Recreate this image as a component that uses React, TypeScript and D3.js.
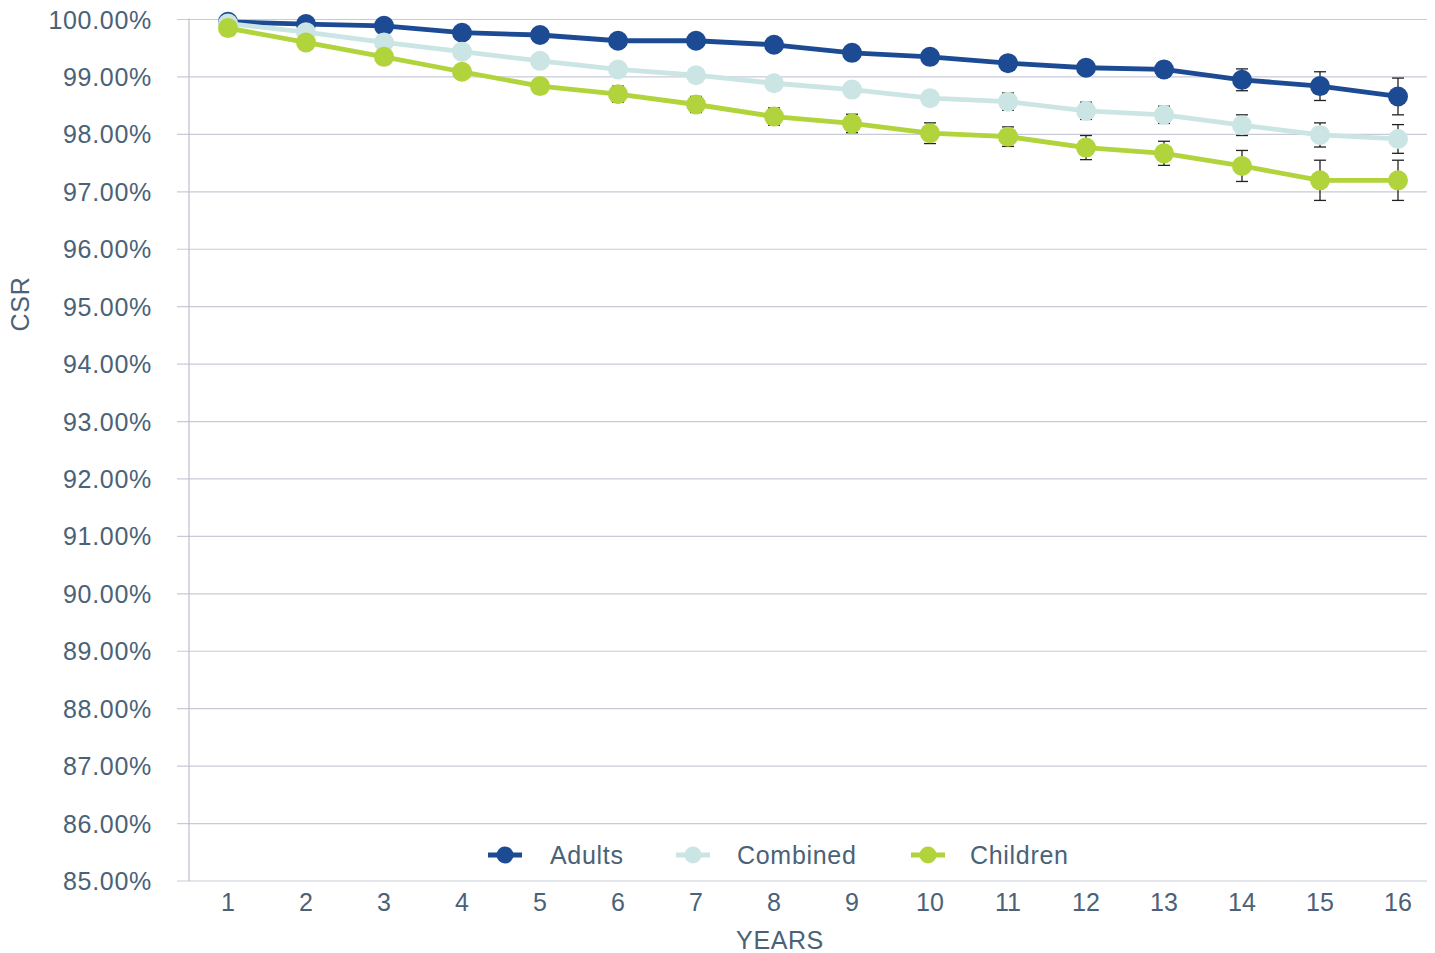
import React from "react";
import * as d3 from "d3";

const years = [1, 2, 3, 4, 5, 6, 7, 8, 9, 10, 11, 12, 13, 14, 15, 16];
const yTicks = [85, 86, 87, 88, 89, 90, 91, 92, 93, 94, 95, 96, 97, 98, 99, 100];

const adults = [99.96, 99.92, 99.89, 99.77, 99.73, 99.63, 99.63, 99.56, 99.42, 99.35, 99.24, 99.16, 99.13, 98.95, 98.84, 98.66];
const adultsErr = [0.01, 0.02, 0.03, 0.04, 0.05, 0.06, 0.07, 0.08, 0.09, 0.1, 0.11, 0.12, 0.13, 0.19, 0.25, 0.32];
const combined = [99.93, 99.78, 99.6, 99.44, 99.28, 99.13, 99.03, 98.89, 98.78, 98.63, 98.57, 98.41, 98.34, 98.16, 97.99, 97.92];
const combinedErr = [0.01, 0.02, 0.03, 0.04, 0.05, 0.06, 0.07, 0.08, 0.1, 0.12, 0.15, 0.15, 0.15, 0.18, 0.21, 0.25];
const children = [99.85, 99.6, 99.35, 99.09, 98.84, 98.7, 98.52, 98.31, 98.19, 98.02, 97.96, 97.77, 97.67, 97.45, 97.2, 97.2];
const childrenErr = [0.02, 0.04, 0.06, 0.08, 0.1, 0.14, 0.14, 0.15, 0.16, 0.18, 0.17, 0.21, 0.21, 0.27, 0.35, 0.35];

const seriesNames = ["Adults", "Combined", "Children"];
const seriesColors = ["#1c4b94", "#cbe5e4", "#b1d33b"];

const TEXT = "#4a6277";
const FONT = "'Liberation Sans', Arial, Helvetica, sans-serif";

export default function App() {
  const W = 1435;
  const H = 953;
  const x = d3.scaleBand<number>().domain(years).range([189, 189 + 78 * 16]).padding(0);
  const cx = (d: number) => (x(d) as number) + x.bandwidth() / 2;
  const y = d3.scaleLinear().domain([85, 100]).range([881, 19.5]);

  const series = [
    { name: seriesNames[0], color: seriesColors[0], vals: adults, err: adultsErr },
    { name: seriesNames[1], color: seriesColors[1], vals: combined, err: combinedErr },
    { name: seriesNames[2], color: seriesColors[2], vals: children, err: childrenErr },
  ];

  const line = d3
    .line<number>()
    .x((_, i) => cx(years[i]))
    .y((v) => y(v));

  const legendItems = [
    { lx: 505, tx: 550 },
    { lx: 693, tx: 737 },
    { lx: 928, tx: 970 },
  ];

  return (
    <svg
      width={W}
      height={H}
      style={{ position: "absolute", left: 0, top: 0, background: "#fff" }}
      fontFamily={FONT}
    >
      {yTicks.map((t) => (
        <line key={t} x1={177} x2={1427} y1={y(t)} y2={y(t)} stroke="#c9cad8" strokeWidth={1.2} />
      ))}
      <line x1={189} x2={189} y1={y(100) - 1} y2={y(85)} stroke="#bcbfcc" strokeWidth={1.2} />

      {yTicks.map((t) => (
        <text
          key={"l" + t}
          x={152}
          y={y(t)}
          dy="0.36em"
          textAnchor="end"
          fontSize={25}
          letterSpacing={0.7}
          fill={TEXT}
        >
          {t.toFixed(2) + "%"}
        </text>
      ))}

      {years.map((d) => (
        <text key={"x" + d} x={cx(d)} y={911} textAnchor="middle" fontSize={25} fill={TEXT}>
          {d}
        </text>
      ))}

      <text x={780} y={949} textAnchor="middle" fontSize={25} letterSpacing={0.6} fill={TEXT}>
        YEARS
      </text>
      <text
        transform="translate(20,304) rotate(-90)"
        textAnchor="middle"
        dy="0.36em"
        fontSize={25}
        letterSpacing={0.8}
        fill={TEXT}
      >
        CSR
      </text>

      {series.map((s) => (
        <g key={s.name}>
          {s.vals.map((v, i) => {
            const px = cx(years[i]);
            const y1 = y(v + s.err[i]);
            const y2 = y(v - s.err[i]);
            return (
              <g key={i} stroke="#222" strokeWidth={1.3}>
                <line x1={px} x2={px} y1={y1} y2={y2} />
                <line x1={px - 6} x2={px + 6} y1={y1} y2={y1} />
                <line x1={px - 6} x2={px + 6} y1={y2} y2={y2} />
              </g>
            );
          })}
          <path d={line(s.vals) || ""} fill="none" stroke={s.color} strokeWidth={4.8} strokeLinejoin="round" />
          {s.vals.map((v, i) => (
            <circle key={"c" + i} cx={cx(years[i])} cy={y(v)} r={10} fill={s.color} />
          ))}
        </g>
      ))}

      {series.map((s, i) => (
        <g key={"leg" + s.name}>
          <line
            x1={legendItems[i].lx - 17}
            x2={legendItems[i].lx + 17}
            y1={855}
            y2={855}
            stroke={s.color}
            strokeWidth={5}
          />
          <circle cx={legendItems[i].lx} cy={855} r={8.5} fill={s.color} />
          <text x={legendItems[i].tx} y={855} dy="0.36em" fontSize={25} letterSpacing={0.7} fill={TEXT}>
            {s.name}
          </text>
        </g>
      ))}
    </svg>
  );
}
